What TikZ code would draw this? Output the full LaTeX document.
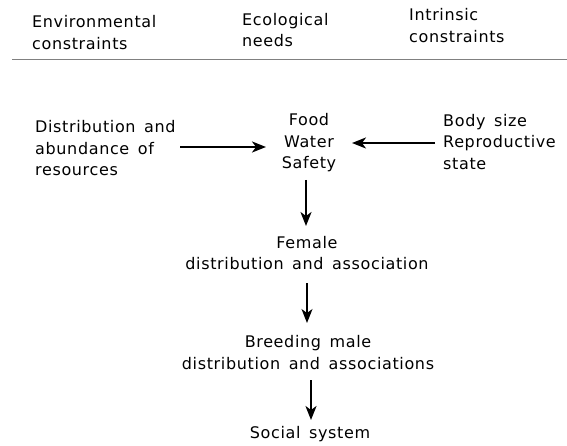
\documentclass[tikz,border=0pt]{standalone}
\usepackage{fontspec}
\setmainfont{DejaVu Sans}[LetterSpace=4,WordSpace=1.5]
\usetikzlibrary{arrows.meta}
\begin{document}
\begin{tikzpicture}[x=1pt,y=-1pt,
  txt/.style={inner sep=0pt,font=\fontsize{16}{21.5}\selectfont,align=left,anchor=west},
  ctr/.style={inner sep=0pt,font=\fontsize{16}{21.5}\selectfont,align=center},
  arr/.style={line width=1.8pt,-{Stealth[length=14pt,width=11pt,inset=4pt]}}]
\useasboundingbox (0,0) rectangle (567,446);
% headers
\node[txt] (h1) at (32,32.5) {Environmental\\constraints};
\node[txt] (h2) at (242,30) {Ecological\\needs};
\node[txt] (h3) at (409,25.5) {Intrinsic\\constraints};
\coordinate (l1) at (12,59);
\coordinate (l2) at (567,59);
\draw[gray,line width=0.6pt] (l1) -- (l2);
% nodes
\node[txt] (env) at (35,148.5) {Distribution and\\abundance of\\resources};
\node[ctr] (needs) at (309,143) {Food\\Water\\Safety};
\node[txt] (intr) at (443,142) {Body size\\Reproductive\\state};
\node[ctr] (fem) at (307,253) {Female\\distribution and association};
\node[ctr] (male) at (308,352.5) {Breeding male\\distribution and associations};
\node[ctr] (soc) at (310,434.5) {Social system};
% connector end points
\coordinate (a1s) at (180,147);
\coordinate (a1e) at (266,147);
\coordinate (a2s) at (435,143);
\coordinate (a2e) at (352,143);
\coordinate (a3s) at (306,180);
\coordinate (a3e) at (306,226);
\coordinate (a4s) at (307,283);
\coordinate (a4e) at (307,323);
\coordinate (a5s) at (311,380);
\coordinate (a5e) at (311,420);
% arrows
\draw[arr] (a1s) -- (a1e);
\draw[arr] (a2s) -- (a2e);
\draw[arr] (a3s) -- (a3e);
\draw[arr,line width=1.2pt] (a4s) -- (a4e);
\draw[arr] (a5s) -- (a5e);
\end{tikzpicture}
\end{document}
